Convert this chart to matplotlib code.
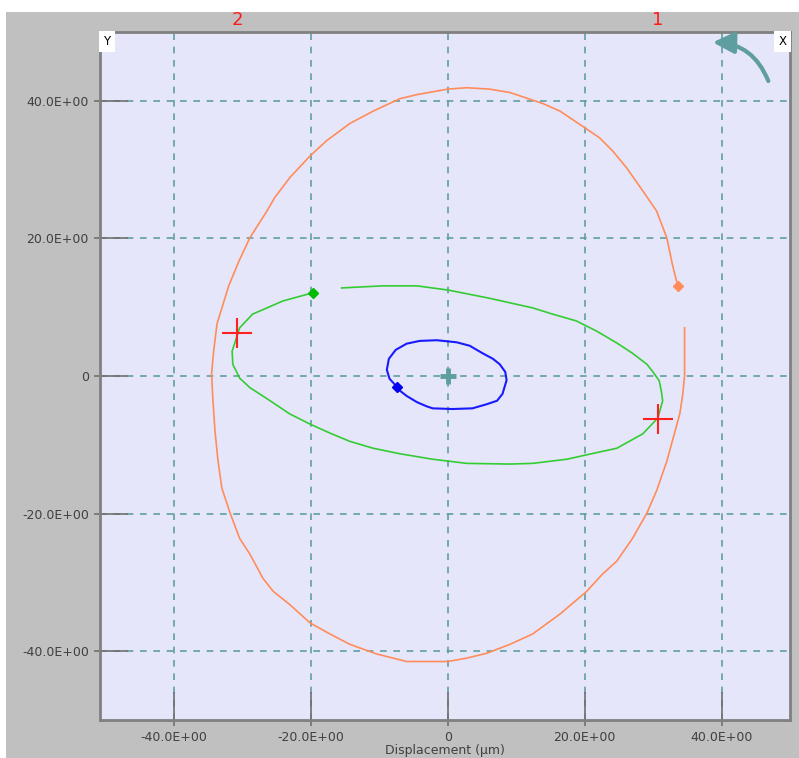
import matplotlib
matplotlib.use('Agg')
import matplotlib.pyplot as plt
from matplotlib.patches import Rectangle, FancyArrowPatch
from matplotlib.ticker import FuncFormatter
import matplotlib.transforms as mtransforms

# orbit traces (displacement, um)
orange_x = [34.6, 34.6, 34.3, 33.9, 32.8, 32.0, 30.5, 29.1, 27.0, 24.7, 22.6, 20.3, 16.4, 12.4,
            9.1, 5.7, 2.8, 0.0, -3.1, -6.0, -10.4, -14.3, -17.2, -20.1, -23.1, -25.5, -27.0,
            -28.9, -30.4, -31.8, -33.0, -33.6, -34.0, -34.3, -34.5, -34.2, -33.7, -32.0, -30.5,
            -28.9, -26.4, -25.3, -23.1, -20.1, -17.7, -14.3, -10.9, -7.0, -4.5, 0.0, 2.8, 6.1,
            9.1, 11.5, 13.9, 16.4, 20.3, 22.2, 24.1, 26.1, 28.5, 30.5, 32.0, 32.4, 32.8, 33.6]
orange_y = [7.0, 0.0, -2.9, -5.5, -9.5, -12.4, -16.7, -19.9, -23.6, -26.9, -28.8, -31.3, -34.6,
            -37.5, -39.0, -40.3, -41.0, -41.5, -41.5, -41.5, -40.4, -39.0, -37.5, -35.9, -33.2,
            -31.3, -29.4, -25.9, -23.6, -19.9, -16.3, -12.0, -8.0, -3.6, 0.3, 3.6, 7.6, 13.1,
            16.7, 20.1, 24.0, 25.9, 28.8, 32.0, 34.2, 36.7, 38.5, 40.3, 40.9, 41.7, 41.9, 41.7,
            41.2, 40.4, 39.6, 38.5, 35.9, 34.6, 32.7, 30.3, 26.9, 24.0, 20.1, 18.2, 16.3, 13.1]

green_x = [-15.5, -9.5, -4.5, 0.0, 6.1, 12.4, 15.3, 18.8, 21.8, 24.7, 27.0, 29.1, 29.9, 30.9,
           31.2, 31.4, 30.7, 28.5, 24.7, 21.0, 17.4, 12.4, 9.1, 2.8, -2.2, -7.0, -10.9, -14.3,
           -17.2, -20.1, -23.1, -26.4, -28.9, -30.4, -31.4, -31.5, -30.4, -28.5, -26.4, -24.1,
           -19.7]
green_y = [12.8, 13.1, 13.1, 12.5, 11.3, 9.9, 9.0, 8.0, 6.5, 4.8, 3.3, 1.7, 0.7, -0.7, -2.2,
           -3.6, -6.1, -8.4, -10.5, -11.3, -12.1, -12.7, -12.8, -12.7, -12.1, -11.3, -10.5,
           -9.5, -8.3, -7.0, -5.5, -3.3, -1.7, -0.3, 1.7, 3.6, 7.0, 9.0, 9.9, 10.9, 12.1]

blue_x = [-7.4, -8.5, -8.9, -8.6, -7.6, -6.0, -4.1, -1.6, 1.3, 3.2, 5.1, 6.6, 7.6, 8.4, 8.6,
          8.0, 7.2, 5.7, 3.6, 0.7, -2.2, -3.1, -4.5, -6.0, -7.3]
blue_y = [-1.6, -0.4, 0.9, 2.5, 3.8, 4.7, 5.1, 5.2, 4.9, 4.4, 3.3, 2.5, 1.7, 0.6, -0.6,
          -2.6, -3.6, -4.1, -4.7, -4.8, -4.7, -4.4, -3.8, -2.9, -1.9]

# probe crosshairs and their labels
probe_x = [-30.8, 30.7]
probe_y = [6.25, -6.25]
probe_labels = ['2', '1']

ticks = [-40, -20, 0, 20, 40]


def fmt(v, pos):
    if v == 0:
        return '0'
    return f'{v:.1f}E+00'


fig = plt.figure(figsize=(7.99, 7.58), dpi=100, facecolor='white')
fig.patches.append(Rectangle((6 / 799, 0), 1, 1 - 12 / 758, transform=fig.transFigure,
                             facecolor='#c0c0c0', edgecolor='none', zorder=-10))
ax = fig.add_axes([100 / 799, 38 / 758, 690 / 799, 688 / 758])
ax.set_facecolor('#e6e6fa')

ax.plot(orange_x, orange_y, color='#ff8c5a', lw=1.2, zorder=3)
ax.plot(orange_x[-1], orange_y[-1], marker='D', color='#ff8c5a', ms=5, zorder=4)
ax.plot(green_x, green_y, color='#33cc33', lw=1.2, zorder=3)
ax.plot(green_x[-1], green_y[-1], marker='D', color='#00bb00', ms=5, zorder=4)
ax.plot(blue_x, blue_y, color='#1a1aff', lw=1.5, zorder=3)
ax.plot(blue_x[0], blue_y[0], marker='D', color='#0000ee', ms=5, zorder=4)

ax.plot(probe_x, probe_y, ls='none', marker='+', color='#ff2020', ms=22, mew=1.5, zorder=5)
ax.plot(0, 0, marker='+', color='#5f9ea0', ms=12, mew=3.5, zorder=5)

trans = mtransforms.blended_transform_factory(ax.transData, ax.transAxes)
for px, lab in zip(probe_x, probe_labels):
    ax.text(px, 1.004, lab, transform=trans, color='#ff1a1a', fontsize=13,
            ha='center', va='bottom', clip_on=False)

ax.text(0.005, 0.996, 'Y', transform=ax.transAxes, fontsize=8.5, ha='left', va='top',
        bbox=dict(facecolor='white', edgecolor='none', pad=3.0), zorder=6)
ax.text(0.995, 0.996, 'X', transform=ax.transAxes, fontsize=8.5, ha='right', va='top',
        bbox=dict(facecolor='white', edgecolor='none', pad=3.0), zorder=6)

arrow = FancyArrowPatch((0.970, 0.925), (0.884, 0.985), transform=ax.transAxes,
                        connectionstyle='arc3,rad=0.35', arrowstyle='-|>', mutation_scale=32,
                        color='#5f9ea0', lw=3, zorder=6)
ax.add_patch(arrow)

ax.set_xlim(-50.8, 50)
ax.set_ylim(-50, 50)
ax.set_xticks(ticks)
ax.set_yticks(ticks)
ax.set_xticks(ticks, minor=True)
ax.set_yticks(ticks, minor=True)
ax.xaxis.remove_overlapping_locs = False
ax.yaxis.remove_overlapping_locs = False
ax.xaxis.set_major_formatter(FuncFormatter(fmt))
ax.yaxis.set_major_formatter(FuncFormatter(fmt))
ax.tick_params(which='major', direction='in', length=20, width=1.2, color='#707070',
               labelsize=9, labelcolor='#404040', pad=8)
ax.tick_params(which='minor', direction='out', length=4, width=1.2, color='#707070')
ax.grid(True, color='#5f9ea0', ls=(0, (4, 4)), lw=1.2)
for s in ax.spines.values():
    s.set_color('#808080')
    s.set_linewidth(2)
ax.set_xlabel('Displacement (µm)', fontsize=9, color='#404040', labelpad=0)

plt.savefig('out.png', dpi=100)
